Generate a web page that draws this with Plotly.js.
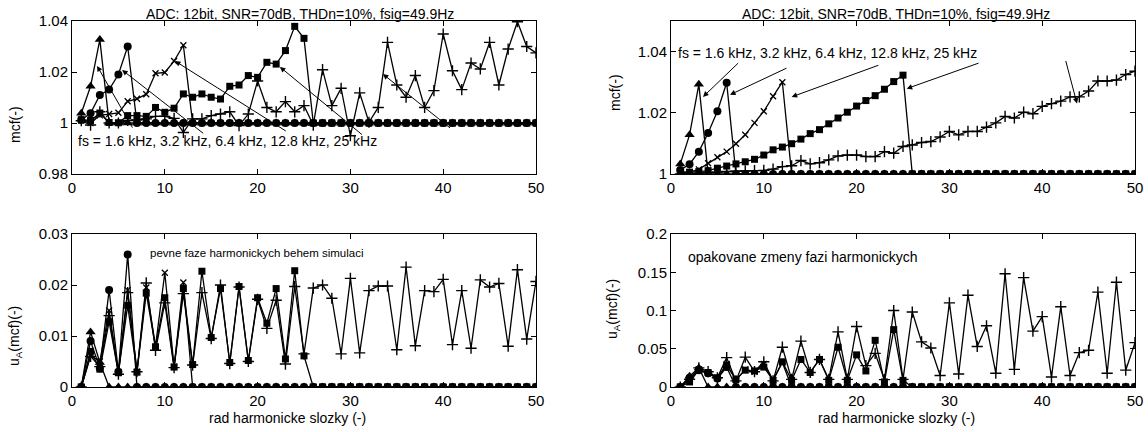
<!DOCTYPE html>
<html><head><meta charset="utf-8">
<script src="https://cdn.plot.ly/plotly-3.0.1.min.js"></script>
<style>html,body{margin:0;padding:0;background:#fff;}#c{width:1148px;height:432px;}</style>
</head><body><div id="c"></div>
<script>
const harmonics = [1,2,3,4,5,6,7,8,9,10,11,12,13,14,15,16,17,18,19,20,21,22,23,24,25,26,27,28,29,30,31,32,33,34,35,36,37,38,39,40,41,42,43,44,45,46,47,48,49,50];
const seriesNames = ["fs = 1.6 kHz","fs = 3.2 kHz","fs = 6.4 kHz","fs = 12.8 kHz","fs = 25 kHz"];

// top-left: mcf, fixed phases
const tl_16 = [1.0038,1.0144,1.0327,1,1,1,1,1,1,1,1,1,1,1,1,1,1,1,1,1,1,1,1,1,1,1,1,1,1,1,1,1,1,1,1,1,1,1,1,1,1,1,1,1,1,1,1,1,1,1];
const tl_32 = [1.0012,1.0038,1.0110,1.0131,1.0190,1.0300,1,1,1,1,1,1,1,1,1,1,1,1,1,1,1,1,1,1,1,1,1,1,1,1,1,1,1,1,1,1,1,1,1,1,1,1,1,1,1,1,1,1,1,1];
const tl_64 = [1.0010,1.0000,1.0030,1.0035,1.0040,1.0085,1.0095,1.0113,1.0195,1.0198,1.0243,1.0305,1,1,1,1,1,1,1,1,1,1,1,1,1,1,1,1,1,1,1,1,1,1,1,1,1,1,1,1,1,1,1,1,1,1,1,1,1,1];
const tl_128 = [1.0013,1.0010,1.0039,1.0002,1.0001,1.0029,1.0029,1.0026,1.0061,1.0042,1.0058,1.0114,1.0101,1.0114,1.0101,1.0094,1.0144,1.0149,1.0186,1.0179,1.0238,1.0231,1.0284,1.0379,1.0332,1,1,1,1,1,1,1,1,1,1,1,1,1,1,1,1,1,1,1,1,1,1,1,1,1];
const tl_25 = [1.0009,0.9992,1.0044,1.0000,1.0000,1.0010,1.0012,1.0016,1.0026,1.0026,1.0018,0.9963,1.0016,1.0016,1.0029,1.0035,1.0044,0.9990,1.0035,1.0165,1.0061,1.0044,1.0084,1.0044,1.0068,0.9992,1.0209,1.0068,1.0136,0.9950,1.0118,1.0003,1.0061,1.0316,1.0149,1.0101,1.0186,1.0061,1.0127,1.0349,1.0205,1.0131,1.0235,1.0212,1.0316,1.0149,1.0290,1.0397,1.0300,1.0275];

// bottom-left: uA(mcf), fixed phases
const bl_16 = [0,0.0108,0.0048,0,0,0,0,0,0,0,0,0,0,0,0,0,0,0,0,0,0,0,0,0,0,0,0,0,0,0,0,0,0,0,0,0,0,0,0,0,0,0,0,0,0,0,0,0,0,0];
const bl_32 = [0,0.0090,0.0037,0.0190,0.0030,0.0260,0,0,0,0,0,0,0,0,0,0,0,0,0,0,0,0,0,0,0,0,0,0,0,0,0,0,0,0,0,0,0,0,0,0,0,0,0,0,0,0,0,0,0,0];
const bl_64 = [0,0.0062,0.0050,0.0150,0.0028,0.0190,0.0030,0.0195,0.0080,0.0224,0.0040,0.0205,0,0,0,0,0,0,0,0,0,0,0,0,0,0,0,0,0,0,0,0,0,0,0,0,0,0,0,0,0,0,0,0,0,0,0,0,0,0];
const bl_128 = [0,0.0070,0.0035,0.0128,0.0028,0.0160,0.0029,0.0184,0.0078,0.0175,0.0039,0.0193,0.0044,0.0227,0.0097,0.0193,0.0048,0.0197,0.0052,0.0175,0.0125,0.0193,0.0055,0.0228,0.0061,0,0,0,0,0,0,0,0,0,0,0,0,0,0,0,0,0,0,0,0,0,0,0,0,0];
const bl_25 = [0,0.0060,0.0040,0.0140,0.0025,0.0185,0.0030,0.0204,0.0072,0.0165,0.0038,0.0183,0.0043,0.0185,0.0095,0.0200,0.0046,0.0196,0.0050,0.0172,0.0115,0.0170,0.0045,0.0197,0.0065,0.0194,0.0200,0.0174,0.0065,0.0213,0.0067,0.0189,0.0198,0.0198,0.0073,0.0235,0.0081,0.0189,0.0187,0.0211,0.0083,0.0189,0.0076,0.0210,0.0196,0.0203,0.0080,0.0230,0.0094,0.0207];

// top-right: mcf, repeated phase changes
const tr_16 = [1.0033,1.0128,1.0293,1,1,1,1,1,1,1,1,1,1,1,1,1,1,1,1,1,1,1,1,1,1,1,1,1,1,1,1,1,1,1,1,1,1,1,1,1,1,1,1,1,1,1,1,1,1,1];
const tr_32 = [1.0013,1.0032,1.0073,1.0134,1.0205,1.0298,1,1,1,1,1,1,1,1,1,1,1,1,1,1,1,1,1,1,1,1,1,1,1,1,1,1,1,1,1,1,1,1,1,1,1,1,1,1,1,1,1,1,1,1];
const tr_64 = [1.0003,1.0006,1.0015,1.0035,1.0055,1.0073,1.0099,1.0128,1.0167,1.0205,1.0254,1.0300,1,1,1,1,1,1,1,1,1,1,1,1,1,1,1,1,1,1,1,1,1,1,1,1,1,1,1,1,1,1,1,1,1,1,1,1,1,1];
const tr_128 = [1.0008,1.0006,1.0008,1.0011,1.0019,1.0026,1.0033,1.0040,1.0048,1.0062,1.0079,1.0088,1.0099,1.0114,1.0132,1.0145,1.0164,1.0183,1.0202,1.0222,1.0240,1.0256,1.0277,1.0302,1.0323,1,1,1,1,1,1,1,1,1,1,1,1,1,1,1,1,1,1,1,1,1,1,1,1,1];
const tr_25 = [1.0000,1.0000,1.0003,1.0005,1.0006,1.0008,1.0009,1.0010,1.0011,1.0012,1.0016,1.0024,1.0027,1.0044,1.0033,1.0037,1.0046,1.0059,1.0062,1.0062,1.0057,1.0057,1.0073,1.0068,1.0090,1.0095,1.0103,1.0106,1.0121,1.0139,1.0128,1.0139,1.0139,1.0153,1.0167,1.0188,1.0183,1.0202,1.0197,1.0221,1.0230,1.0238,1.0252,1.0252,1.0271,1.0304,1.0304,1.0307,1.0325,1.0336];

// bottom-right: uA(mcf), repeated phase changes
const br_16 = [0,0.0140,0.0250,0,0,0,0,0,0,0,0,0,0,0,0,0,0,0,0,0,0,0,0,0,0,0,0,0,0,0,0,0,0,0,0,0,0,0,0,0,0,0,0,0,0,0,0,0,0,0];
const br_32 = [0,0.0120,0.0220,0.0180,0.0110,0.0260,0,0,0,0,0,0,0,0,0,0,0,0,0,0,0,0,0,0,0,0,0,0,0,0,0,0,0,0,0,0,0,0,0,0,0,0,0,0,0,0,0,0,0,0];
const br_64 = [0,0.0100,0.0230,0.0180,0.0120,0.0300,0.0090,0.0230,0.0200,0.0300,0.0090,0.0320,0,0,0,0,0,0,0,0,0,0,0,0,0,0,0,0,0,0,0,0,0,0,0,0,0,0,0,0,0,0,0,0,0,0,0,0,0,0];
const br_128 = [0,0.0066,0.0220,0.0190,0.0120,0.0280,0.0100,0.0220,0.0210,0.0260,0.0087,0.0330,0.0087,0.0360,0.0190,0.0360,0.0087,0.0520,0.0087,0.0420,0.0210,0.0610,0.0066,0.0750,0.0087,0,0,0,0,0,0,0,0,0,0,0,0,0,0,0,0,0,0,0,0,0,0,0,0,0];
const br_25 = [0,0.0100,0.0250,0.0200,0.0120,0.0384,0.0080,0.0390,0.0200,0.0330,0.0080,0.0520,0.0100,0.0600,0.0190,0.0360,0.0100,0.0720,0.0100,0.0790,0.0280,0.0440,0.0096,0.1000,0.0100,0.0980,0.0590,0.0510,0.0150,0.1100,0.0170,0.1200,0.0530,0.0800,0.0180,0.1480,0.0230,0.1430,0.0730,0.0920,0.0130,0.1050,0.0150,0.0450,0.0480,0.1240,0.0180,0.1370,0.0220,0.0580];

const titleText = "ADC: 12bit, SNR=70dB, THDn=10%, fsig=49.9Hz";
const fsText = "fs = 1.6 kHz, 3.2 kHz, 6.4 kHz, 12.8 kHz, 25 kHz";
const xLabel = "rad harmonicke slozky (-)";
const yLabelTop = "mcf(-)";
const yLabelBot = "u<sub>A</sub>(mcf)(-)";
const noteLeft = "pevne faze harmonickych behem simulaci";
const noteRight = "opakovane zmeny fazi harmonickych";

const FONT = "Liberation Sans, Arial, sans-serif";
const markerDefs = [
  {symbol:"triangle-up", size:9, color:"#000"},
  {symbol:"circle", size:8, color:"#000"},
  {symbol:"x-thin", size:6, color:"#000", line:{width:1.3,color:"#000"}},
  {symbol:"square", size:7, color:"#000"},
  {symbol:"cross-thin", size:8, color:"#000", line:{width:1.4,color:"#000"}}
];

const panels = [
  {xa:"x", ya:"y", data:[tl_16,tl_32,tl_64,tl_128,tl_25]},
  {xa:"x2", ya:"y2", data:[tr_16,tr_32,tr_64,tr_128,tr_25]},
  {xa:"x3", ya:"y3", data:[bl_16,bl_32,bl_64,bl_128,bl_25]},
  {xa:"x4", ya:"y4", data:[br_16,br_32,br_64,br_128,br_25]}
];
const traces = [];
panels.forEach(p => {
  p.data.forEach((ys, i) => {
    traces.push({x:harmonics, y:ys, xaxis:p.xa, yaxis:p.ya, type:"scatter", mode:"lines+markers",
      name:seriesNames[i], line:{color:"#000", width:1.3}, marker:markerDefs[i], showlegend:false, hoverinfo:"x+y"});
  });
});

const W = 1148, H = 432;
const px = v => v / W, py = v => 1 - v / H;
const axBase = {showline:true, linecolor:"#000", linewidth:1, mirror:"ticks", ticks:"inside", ticklen:5,
  tickcolor:"#000", showgrid:false, zeroline:false, tickfont:{family:FONT, size:15, color:"#000"}};
const xAx = (dom, anchor) => Object.assign({}, axBase, {domain:dom, anchor:anchor, range:[0,50], dtick:10, tick0:0});
const yAx = (dom, anchor, r, dt) => Object.assign({}, axBase, {domain:dom, anchor:anchor, range:r, dtick:dt});

const domL = [px(72), px(536)], domR = [px(671), px(1135)];
const domT = [py(174), py(21)], domB = [py(387), py(234)];

const ann = [];
const txt = (text, x, y, size, extra) => ann.push(Object.assign({text:text, x:x, y:y, xref:"paper", yref:"paper", showarrow:false,
  xanchor:"center", yanchor:"middle", font:{family:FONT, size:size, color:"#000"}}, extra||{}));
txt(titleText, px(300), py(14), 14);
txt(titleText, px(896), py(14), 14);
txt(yLabelTop, px(15), py(125), 14, {textangle:-90});
txt(yLabelTop, px(615), py(93), 14, {textangle:-90});
txt(yLabelBot, px(15), py(336), 14, {textangle:-90});
txt(yLabelBot, px(613), py(309), 14, {textangle:-90});
txt(xLabel, px(287), py(418), 14);
txt(xLabel, px(896), py(418), 14);
txt(noteLeft, px(148), py(253), 11.5, {xanchor:"left"});
txt(noteRight, px(686), py(257), 14, {xanchor:"left"});

// fs annotation text in data coordinates
ann.push({text:fsText, x:0.43, y:0.9929, xref:"x", yref:"y", xanchor:"left", yanchor:"middle", showarrow:false, font:{family:FONT,size:14,color:"#000"}});
ann.push({text:fsText, x:0.54, y:1.0397, xref:"x2", yref:"y2", xanchor:"left", yanchor:"middle", showarrow:false, font:{family:FONT,size:14,color:"#000"}});

const arrows = [
  ["x","y",2.7,1.0224,6.6,0.9976],
  ["x","y",5.4,1.0208,14.3,0.9955],
  ["x","y",11.1,1.0243,23.2,0.9965],
  ["x","y",22.4,1.0220,31.4,0.9950],
  ["x","y",33.5,1.0192,40.9,0.9976],
  ["x2","y2",3.45,1.0252,7.4,1.0367],
  ["x2","y2",6.36,1.0259,12.6,1.0348],
  ["x2","y2",13.0,1.0252,22.5,1.0357],
  ["x2","y2",25.4,1.0279,33.3,1.0364],
  ["x2","y2",43.75,1.0230,42.5,1.0374]
];
arrows.forEach(a => ann.push({text:"", xref:a[0], yref:a[1], x:a[2], y:a[3], axref:a[0], ayref:a[1], ax:a[4], ay:a[5],
  showarrow:true, arrowhead:2, arrowsize:1.1, arrowwidth:1, arrowcolor:"#000", standoff:0, startstandoff:0}));

const layout = {
  width:W, height:H, margin:{l:0,r:0,t:0,b:0}, paper_bgcolor:"#fff", plot_bgcolor:"#fff", showlegend:false,
  font:{family:FONT, color:"#000"},
  xaxis: xAx(domL, "y"), yaxis: yAx(domT, "x", [0.98,1.04], 0.02),
  xaxis2: xAx(domR, "y2"), yaxis2: yAx(domT, "x2", [1,1.05], 0.02),
  xaxis3: xAx(domL, "y3"), yaxis3: yAx(domB, "x3", [0,0.03], 0.01),
  xaxis4: xAx(domR, "y4"), yaxis4: yAx(domB, "x4", [0,0.2], 0.05),
  annotations: ann
};
Plotly.newPlot("c", traces, layout, {displayModeBar:false, staticPlot:true});
</script></body></html>
